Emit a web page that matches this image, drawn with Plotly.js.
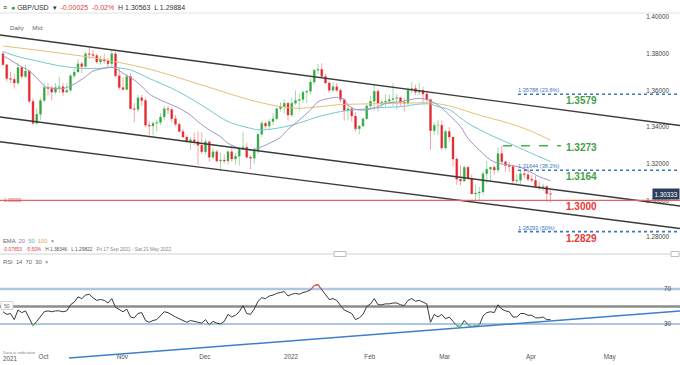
<!DOCTYPE html>
<html><head><meta charset="utf-8">
<script src="https://cdn.plot.ly/plotly-3.0.1.min.js"></script>
<style>html,body{margin:0;padding:0;background:#fff;overflow:hidden}#chart{width:680px;height:365px}</style>
</head><body><div id="chart"></div>
<script>
// ---------- DATA ----------
const dates = [
'2021-09-17','2021-09-20','2021-09-21','2021-09-22','2021-09-23','2021-09-24','2021-09-27','2021-09-28','2021-09-29','2021-09-30',
'2021-10-01','2021-10-04','2021-10-05','2021-10-06','2021-10-07','2021-10-08','2021-10-11','2021-10-12','2021-10-13','2021-10-14','2021-10-15','2021-10-18','2021-10-19','2021-10-20','2021-10-21','2021-10-22','2021-10-25','2021-10-26','2021-10-27','2021-10-28','2021-10-29',
'2021-11-01','2021-11-02','2021-11-03','2021-11-04','2021-11-05','2021-11-08','2021-11-09','2021-11-10','2021-11-11','2021-11-12','2021-11-15','2021-11-16','2021-11-17','2021-11-18','2021-11-19','2021-11-22','2021-11-23','2021-11-24','2021-11-25','2021-11-26','2021-11-29','2021-11-30',
'2021-12-01','2021-12-02','2021-12-03','2021-12-06','2021-12-07','2021-12-08','2021-12-09','2021-12-10','2021-12-13','2021-12-14','2021-12-15','2021-12-16','2021-12-17','2021-12-20','2021-12-21','2021-12-22','2021-12-23','2021-12-24','2021-12-27','2021-12-28','2021-12-29','2021-12-30','2021-12-31',
'2022-01-03','2022-01-04','2022-01-05','2022-01-06','2022-01-07','2022-01-10','2022-01-11','2022-01-12','2022-01-13','2022-01-14','2022-01-17','2022-01-18','2022-01-19','2022-01-20','2022-01-21','2022-01-24','2022-01-25','2022-01-26','2022-01-27','2022-01-28','2022-01-31',
'2022-02-01','2022-02-02','2022-02-03','2022-02-04','2022-02-07','2022-02-08','2022-02-09','2022-02-10','2022-02-11','2022-02-14','2022-02-15','2022-02-16','2022-02-17','2022-02-18','2022-02-21','2022-02-22','2022-02-23','2022-02-24','2022-02-25','2022-02-28',
'2022-03-01','2022-03-02','2022-03-03','2022-03-04','2022-03-07','2022-03-08','2022-03-09','2022-03-10','2022-03-11','2022-03-14','2022-03-15','2022-03-16','2022-03-17','2022-03-18','2022-03-21','2022-03-22','2022-03-23','2022-03-24','2022-03-25','2022-03-28','2022-03-29','2022-03-30','2022-03-31',
'2022-04-01','2022-04-04','2022-04-05','2022-04-06','2022-04-07','2022-04-08','2022-04-11'];

const openP = [
1.3800,1.3740,1.3665,1.3660,1.3640,1.3725,1.3675,1.3705,1.3540,1.3420,
1.3470,1.3545,1.3615,1.3610,1.3590,1.3615,1.3620,1.3590,1.3600,1.3680,1.3700,1.3745,1.3730,1.3800,1.3795,1.3790,1.3755,1.3770,1.3760,1.3745,1.3800,
1.3680,1.3615,1.3605,1.3675,1.3500,1.3495,1.3560,1.3545,1.3410,1.3405,1.3420,1.3425,1.3455,1.3500,1.3495,1.3445,1.3415,1.3375,1.3345,1.3320,1.3330,1.3320,
1.3300,1.3265,1.3320,1.3235,1.3265,1.3215,1.3220,1.3215,1.3265,1.3225,1.3240,1.3285,1.3290,1.3235,1.3230,1.3270,1.3360,1.3420,1.3405,1.3430,1.3445,1.3500,1.3510,
1.3530,1.3465,1.3530,1.3545,1.3550,1.3590,1.3595,1.3645,1.3710,1.3715,1.3675,1.3640,1.3600,1.3620,1.3600,1.3550,1.3490,1.3500,1.3460,1.3390,1.3405,
1.3445,1.3515,1.3540,1.3595,1.3530,1.3535,1.3540,1.3550,1.3555,1.3560,1.3535,1.3530,1.3600,1.3610,1.3590,1.3600,1.3580,1.3550,1.3380,1.3410,
1.3410,1.3285,1.3375,1.3345,1.3225,1.3115,1.3105,1.3180,1.3120,1.3035,1.3040,1.3045,1.3145,1.3170,1.3180,1.3165,1.3255,1.3210,1.3190,1.3185,1.3105,1.3110,1.3145,
1.3140,1.3115,1.3110,1.3075,1.3070,1.3075,1.3036];

const highP = [
1.3812,1.3745,1.3700,1.3690,1.3750,1.3730,1.3740,1.3710,1.3555,1.3505,
1.3560,1.3640,1.3640,1.3625,1.3640,1.3675,1.3640,1.3640,1.3690,1.3720,1.3770,1.3755,1.3810,1.3835,1.3820,1.3800,1.3790,1.3800,1.3775,1.3825,1.3810,
1.3725,1.3670,1.3690,1.3695,1.3530,1.3575,1.3575,1.3560,1.3430,1.3430,1.3440,1.3475,1.3515,1.3515,1.3505,1.3465,1.3425,1.3390,1.3355,1.3345,1.3370,1.3375,
1.3370,1.3335,1.3325,1.3285,1.3275,1.3260,1.3250,1.3275,1.3300,1.3260,1.3290,1.3375,1.3315,1.3245,1.3290,1.3365,1.3435,1.3430,1.3445,1.3475,1.3505,1.3535,1.3550,
1.3535,1.3560,1.3600,1.3580,1.3600,1.3600,1.3665,1.3715,1.3745,1.3748,1.3690,1.3650,1.3645,1.3640,1.3610,1.3555,1.3520,1.3510,1.3480,1.3410,1.3450,
1.3530,1.3570,1.3628,1.3605,1.3550,1.3580,1.3575,1.3640,1.3580,1.3565,1.3560,1.3615,1.3645,1.3630,1.3640,1.3620,1.3600,1.3555,1.3425,1.3440,
1.3435,1.3385,1.3400,1.3345,1.3235,1.3190,1.3190,1.3190,1.3140,1.3085,1.3075,1.3160,1.3215,1.3185,1.3190,1.3290,1.3298,1.3215,1.3210,1.3185,1.3145,1.3160,1.3180,
1.3185,1.3140,1.3135,1.3100,1.3090,1.3080,1.30563];

const lowP = [
1.3735,1.3648,1.3640,1.3610,1.3630,1.3660,1.3665,1.3530,1.3410,1.3412,
1.3440,1.3535,1.3570,1.3545,1.3580,1.3585,1.3570,1.3585,1.3590,1.3665,1.3700,1.3695,1.3725,1.3770,1.3775,1.3745,1.3740,1.3745,1.3720,1.3730,1.3670,
1.3605,1.3600,1.3600,1.3495,1.3425,1.3480,1.3515,1.3400,1.3355,1.3355,1.3375,1.3410,1.3435,1.3470,1.3425,1.3405,1.3370,1.3340,1.3315,1.3275,1.3300,1.3195,
1.3255,1.3250,1.3210,1.3225,1.3205,1.3160,1.3200,1.3195,1.3210,1.3195,1.3190,1.3275,1.3230,1.3170,1.3200,1.3255,1.3345,1.3390,1.3385,1.3410,1.3435,1.3485,1.3475,
1.3435,1.3455,1.3520,1.3490,1.3530,1.3530,1.3580,1.3630,1.3690,1.3670,1.3635,1.3585,1.3590,1.3590,1.3535,1.3435,1.3435,1.3430,1.3375,1.3360,1.3400,
1.3440,1.3495,1.3490,1.3485,1.3505,1.3515,1.3525,1.3515,1.3495,1.3515,1.3485,1.3520,1.3585,1.3575,1.3575,1.3530,1.3535,1.3275,1.3355,1.3355,
1.3275,1.3275,1.3320,1.3185,1.3085,1.3080,1.3100,1.3110,1.3035,1.3000,1.3000,1.3030,1.3095,1.3105,1.3140,1.3150,1.3200,1.3155,1.3155,1.3085,1.3090,1.3090,1.3120,
1.3105,1.3100,1.3070,1.3055,1.3050,1.2990,1.29884];

const closeP = [
1.3740,1.3665,1.3660,1.3640,1.3725,1.3675,1.3705,1.3540,1.3420,1.3470,
1.3545,1.3615,1.3610,1.3590,1.3615,1.3620,1.3590,1.3600,1.3680,1.3700,1.3745,1.3730,1.3800,1.3795,1.3790,1.3755,1.3770,1.3760,1.3745,1.3800,1.3680,
1.3615,1.3605,1.3675,1.3500,1.3495,1.3560,1.3545,1.3410,1.3405,1.3420,1.3425,1.3455,1.3500,1.3495,1.3445,1.3415,1.3375,1.3345,1.3320,1.3330,1.3320,1.3300,
1.3265,1.3320,1.3235,1.3265,1.3215,1.3220,1.3215,1.3265,1.3225,1.3240,1.3285,1.3290,1.3235,1.3230,1.3270,1.3360,1.3420,1.3405,1.3430,1.3445,1.3500,1.3510,1.3530,
1.3465,1.3530,1.3545,1.3550,1.3590,1.3595,1.3645,1.3710,1.3715,1.3675,1.3640,1.3600,1.3620,1.3600,1.3550,1.3490,1.3500,1.3460,1.3390,1.3405,1.3445,
1.3515,1.3540,1.3595,1.3530,1.3535,1.3540,1.3550,1.3555,1.3560,1.3535,1.3530,1.3600,1.3610,1.3590,1.3600,1.3580,1.3550,1.3380,1.3410,1.3410,
1.3285,1.3375,1.3345,1.3225,1.3115,1.3105,1.3180,1.3120,1.3035,1.3040,1.3045,1.3145,1.3170,1.3180,1.3165,1.3255,1.3210,1.3190,1.3185,1.3105,1.3110,1.3145,1.3140,
1.3115,1.3110,1.3075,1.3070,1.3075,1.3036,1.30333];

const rsi14 = [
44,41,42,35,46,43,45,36,28,33,
39,44,45,44,45,45,44,45,52,55,61,59,63,64,60,57,58,57,54,59,49,
46,44,47,38,37,42,43,34,32,34,35,39,44,43,40,38,36,34,32,34,33,32,
31,35,29,33,31,30,33,41,38,40,44,51,42,41,47,56,60,59,62,63,65,66,67,
62,64,65,64,66,67,69,74,75,69,63,58,59,57,51,46,44,42,35,37,41,
50,53,59,52,52,53,53,54,54,52,51,57,59,56,57,55,53,32,41,38,
41,36,38,33,28,27,34,29,27,28,28.5,39,43,44,43,52,47,45,44,38,38,42,42,
40,40,37,37,38,35,35];

// EMA values read at selected sessions (index into dates)
const ema20Idx = [0,2,4,7,10,11,14,16,19,22,24,27,29,30,32,35,38,39,42,44,47,50,52,55,58,60,63,66,68,71,74,76,79,82,84,87,89,91,92,94,97,100,102,106,108,111,113,116,119,122,124,127,130,132,135,138,140,143,146];
const ema20 = [1.3789,1.3765,1.3740,1.3705,1.3647,1.3622,1.3610,1.3610,1.3634,1.3674,1.3705,1.3720,1.3726,1.3720,1.3693,1.3656,1.3602,1.3580,1.3547,1.3529,1.3502,1.3465,1.3429,1.3384,1.3347,1.3311,1.3284,1.3274,1.3284,1.3311,1.3344,1.3387,1.3438,1.3493,1.3538,1.3556,1.3562,1.3551,1.3520,1.3496,1.3493,1.3511,1.3529,1.3538,1.3547,1.3556,1.3550,1.3520,1.3465,1.3402,1.3338,1.3274,1.3220,1.3202,1.3193,1.3180,1.3162,1.3129,1.3107];
const ema50Idx = [0,4,10,15,21,26,29,34,39,45,50,55,60,66,68,71,76,79,84,90,95,100,106,111,114,116,119,124,130,135,140,146];
const ema50 = [1.3811,1.3784,1.3756,1.3734,1.3720,1.3720,1.3726,1.3711,1.3665,1.3611,1.3556,1.3493,1.3429,1.3393,1.3384,1.3387,1.3405,1.3422,1.3456,1.3484,1.3496,1.3505,1.3511,1.3525,1.3525,1.3511,1.3495,1.3420,1.3356,1.3311,1.3265,1.3211];
const ema100Idx = [0,13,26,39,53,66,74,79,90,100,111,114,119,127,135,140,146];
const ema100 = [1.3842,1.3809,1.3771,1.3716,1.3629,1.3547,1.3511,1.3502,1.3522,1.3527,1.3532,1.3532,1.3515,1.3465,1.3420,1.3384,1.3329];

const priceTicks = [1.28,1.30,1.32,1.34,1.36,1.38,1.40];
const rsiTicks = [30,70];
const monthTicks = ['2021-10-01','2021-11-01','2021-12-01','2022-01-03','2022-02-01','2022-03-01','2022-04-01','2022-05-02'];
const monthLabels = ['Oct','Nov','Dec','2022','Feb','Mar','Apr','May'];

const fibLevels = [1.35788,1.31644,1.28293];
const fibLabels = ['1.35788 (23.6%)','1.31644 (38.2%)','1.28293 (50%)'];
const levelLabels = ['1.3579','1.3273','1.3164','1.3000','1.2829'];
const levelValues = [1.35788,1.3273,1.31644,1.3000,1.28293];
const supportLevel = 1.3000;
const lastPrice = 1.30333;

// ---------- LAYOUT HELPERS ----------
const W = 680, H = 365;
const X = px => px / W;
const Y = py => (H - py) / H;
const FONT = 'Liberation Sans, Arial, sans-serif';
const priceTop = 1.40 + 4/1833.33, priceBot = 1.28 - 17/1833.33;
const rsiTop = 70 + 34/0.875, rsiBot = 30 - 28/0.875;

const GREEN = '#43a047', RED = '#e53935', BLUE = '#3b78c3';

const traces = [
  {type:'candlestick', x:dates, open:openP, high:highP, low:lowP, close:closeP,
   xaxis:'x', yaxis:'y', whiskerwidth:0, hoverinfo:'skip', showlegend:false,
   increasing:{line:{color:'#a6d9a9', width:1}, fillcolor:'#a6d9a9'},
   decreasing:{line:{color:'#f4a5a5', width:1}, fillcolor:'#f4a5a5'}},
  {type:'candlestick', x:dates, open:openP, high:highP, low:lowP, close:closeP,
   xaxis:'x', yaxis:'y', whiskerwidth:0, hoverinfo:'skip', showlegend:false,
   increasing:{line:{color:'rgba(0,0,0,0)', width:0}, fillcolor:'#33a644'},
   decreasing:{line:{color:'rgba(0,0,0,0)', width:0}, fillcolor:'#e4262c'}},
  {type:'scatter', mode:'lines', x:ema100Idx.map(i=>dates[i]), y:ema100, xaxis:'x', yaxis:'y',
   line:{color:'#ebbd78', width:1, shape:'spline', smoothing:0.8}, hoverinfo:'skip', showlegend:false},
  {type:'scatter', mode:'lines', x:ema50Idx.map(i=>dates[i]), y:ema50, xaxis:'x', yaxis:'y',
   line:{color:'#74c8cc', width:1, shape:'spline', smoothing:0.8}, hoverinfo:'skip', showlegend:false},
  {type:'scatter', mode:'lines', x:ema20Idx.map(i=>dates[i]), y:ema20, xaxis:'x', yaxis:'y',
   line:{color:'#a093c6', width:1, shape:'spline', smoothing:0.8}, hoverinfo:'skip', showlegend:false},
  {type:'scatter', mode:'lines', x:dates, y:rsi14, xaxis:'x', yaxis:'y2',
   line:{color:'#3a3a3a', width:1}, hoverinfo:'skip', showlegend:false},
  {type:'scatter', mode:'lines', x:dates, y:rsi14, xaxis:'x', yaxis:'y3',
   line:{color:'#66cc66', width:1.2}, hoverinfo:'skip', showlegend:false},
  {type:'scatter', mode:'lines', x:dates, y:rsi14, xaxis:'x', yaxis:'y4',
   line:{color:'#ee5555', width:1.2}, hoverinfo:'skip', showlegend:false}
];

const shapes = [
  // header separator
  {type:'line', xref:'paper', yref:'paper', x0:0, x1:1, y0:Y(13), y1:Y(13), line:{color:'#e3e3e3', width:1}},
  // channel lines
  {type:'line', xref:'paper', yref:'y', x0:0, x1:1, y0:1.390182, y1:1.340818, line:{color:'#3a3a3a', width:1.4}},
  {type:'line', xref:'paper', yref:'y', x0:0, x1:1, y0:1.345455, y1:1.296909, line:{color:'#3a3a3a', width:1.4}},
  {type:'line', xref:'paper', yref:'y', x0:0, x1:1, y0:1.331982, y1:1.284636, line:{color:'#3a3a3a', width:1.4}},
  // support line
  {type:'line', xref:'paper', yref:'y', x0:0, x1:1, y0:supportLevel, y1:supportLevel, line:{color:'#e06464', width:1.3}},
  // resistance dashed (from Mar 23 high)
  {type:'line', xref:'paper', yref:'y', x0:X(503), x1:X(561), y0:highP[133], y1:highP[133], line:{color:'#4caf50', width:1.4, dash:'dash'}},
  // separator between panes
  {type:'line', xref:'paper', yref:'paper', x0:0, x1:1, y0:Y(254), y1:Y(254), line:{color:'#d2d2d2', width:1}},
  {type:'rect', xref:'paper', yref:'paper', x0:X(334), x1:X(346), y0:Y(256.5), y1:Y(251.5), line:{color:'#bdbdbd', width:1}, fillcolor:'#ffffff'},
  {type:'rect', xref:'paper', yref:'paper', x0:X(671), x1:X(679), y0:Y(256.5), y1:Y(251.5), line:{color:'#bdbdbd', width:1}, fillcolor:'#ffffff'},
  // RSI levels
  {type:'line', xref:'paper', yref:'y2', x0:0, x1:1, y0:70, y1:70, layer:'below', line:{color:'#aec7e0', width:2.5}},
  {type:'line', xref:'paper', yref:'y2', x0:0, x1:1, y0:50, y1:50, layer:'below', line:{color:'#8d8d8d', width:2.5}},
  {type:'line', xref:'paper', yref:'y2', x0:0, x1:1, y0:30, y1:30, layer:'below', line:{color:'#5a8cc8', width:1.2}},
  // RSI trendline
  {type:'line', xref:'paper', yref:'paper', x0:X(69), x1:1, y0:Y(358), y1:Y(311), line:{color:'#3f7fc9', width:1.5}},
  // RSI 50 box
  {type:'rect', xref:'paper', yref:'paper', x0:X(1), x1:X(13), y0:Y(309.5), y1:Y(301.5), line:{color:'#c8c8c8', width:0.8}, fillcolor:'#ffffff'}
];
fibLevels.forEach(v => shapes.push({type:'line', xref:'paper', yref:'y', x0:X(518), x1:1, y0:v, y1:v,
  line:{color:BLUE, width:1.6, dash:'dot'}}));

function txt(px, py, text, size, color, extra) {
  return Object.assign({xref:'paper', yref:'paper', x:X(px), y:Y(py), text:text, showarrow:false,
    xanchor:'left', yanchor:'middle', borderpad:0, font:{family:FONT, size:size, color:color}}, extra||{});
}

const annotations = [
  txt(2, 7, '≡  <span style="color:#2e9e3e">●</span> GBP/USD  ▾  <span style="color:#e04040">-0.00025  -0.02%</span>  H 1.30563  L 1.29884', 7, '#333'),
  txt(9, 27, 'Daily     Mid', 6.2, '#666'),
  txt(2, 241, 'EMA  <span style="color:#8e7cc3">20</span>  <span style="color:#4fb8bd">50</span>  <span style="color:#e0a84e">100</span>  ×', 5.8, '#666'),
  txt(2, 249, '<span style="color:#e04040">-0.07653   -5.50%</span>   H 1.38346   L 1.29822   <span style="color:#888">Fri 17 Sep 2021 - Sat 21 May 2022</span>', 4.8, '#555'),
  txt(2, 262, 'RSI  14  70  30  ×', 5.8, '#666'),
  txt(2, 352, 'Data is indicative', 4.3, '#888'),
  txt(2, 358.5, '2021', 6.3, '#555'),
  txt(7, 305.5, '50', 5, '#666', {xanchor:'center'}),
  txt(3, 200, '1.30000', 4.8, '#e05050', {yshift:0}),
  {xref:'paper', yref:'y', x:1, y:lastPrice, text:'1.30333', showarrow:false, xanchor:'right', yanchor:'middle',
   bgcolor:'#2c3d5b', borderpad:1.5, font:{family:FONT, size:6.3, color:'#ffffff'}}
];
fibLevels.forEach((v, k) => annotations.push({xref:'paper', yref:'y', x:X(517), y:v, yshift:4, text:fibLabels[k],
  showarrow:false, xanchor:'left', yanchor:'middle', borderpad:0, font:{family:FONT, size:5.6, color:BLUE}}));
const levelColors = [GREEN, GREEN, GREEN, RED, RED];
const levelShift = [-6, 3, -6, -6, -6.5];
levelLabels.forEach((t, k) => annotations.push({xref:'paper', yref:'y', x:X(581), y:levelValues[k], yshift:levelShift[k],
  text:'<b>'+t+'</b>', showarrow:false, xanchor:'center', yanchor:'middle', borderpad:0,
  font:{family:FONT, size:10, color:levelColors[k]}}));

const layout = {
  width:W, height:H, margin:{l:0, r:0, t:0, b:0}, paper_bgcolor:'#ffffff', plot_bgcolor:'rgba(0,0,0,0)',
  showlegend:false, font:{family:FONT, size:7, color:'#555'}, hovermode:false,
  xaxis:{type:'date', anchor:'y2', domain:[0,1], range:['2021-09-16 04:48','2022-05-27 12:43'],
    rangebreaks:[{bounds:['sat','mon']}], rangeslider:{visible:false}, showgrid:false, zeroline:false,
    showline:false, ticks:'', tickmode:'array', tickvals:monthTicks, ticktext:monthLabels,
    tickfont:{family:FONT, size:6.3, color:'#555'}, ticklabelshift:3},
  yaxis:{domain:[Y(254), Y(13)], range:[priceBot, priceTop], anchor:'x', side:'right', showgrid:false,
    zeroline:false, showline:false, ticks:'', tickmode:'array', tickvals:priceTicks,
    ticktext:priceTicks.map(v=>v.toFixed(5)), ticklabelposition:'inside', ticklabelstandoff:8,
    tickfont:{family:FONT, size:6.3, color:'#444'}},
  yaxis2:{domain:[Y(352), Y(255)], range:[rsiBot, rsiTop], anchor:'x', side:'right', showgrid:false,
    zeroline:false, showline:false, ticks:'', tickmode:'array', tickvals:rsiTicks, ticktext:['30','70'],
    ticklabelposition:'inside', ticklabelstandoff:6, tickfont:{family:FONT, size:6.3, color:'#444'}},
  yaxis3:{domain:[Y(352), Y(324)], range:[rsiBot, 30], anchor:'x', showgrid:false, zeroline:false,
    showline:false, showticklabels:false, ticks:''},
  yaxis4:{domain:[Y(289), Y(255)], range:[70, rsiTop], anchor:'x', showgrid:false, zeroline:false,
    showline:false, showticklabels:false, ticks:''},
  shapes:shapes, annotations:annotations
};

Plotly.newPlot('chart', traces, layout, {staticPlot:true, displayModeBar:false});
</script></body></html>
